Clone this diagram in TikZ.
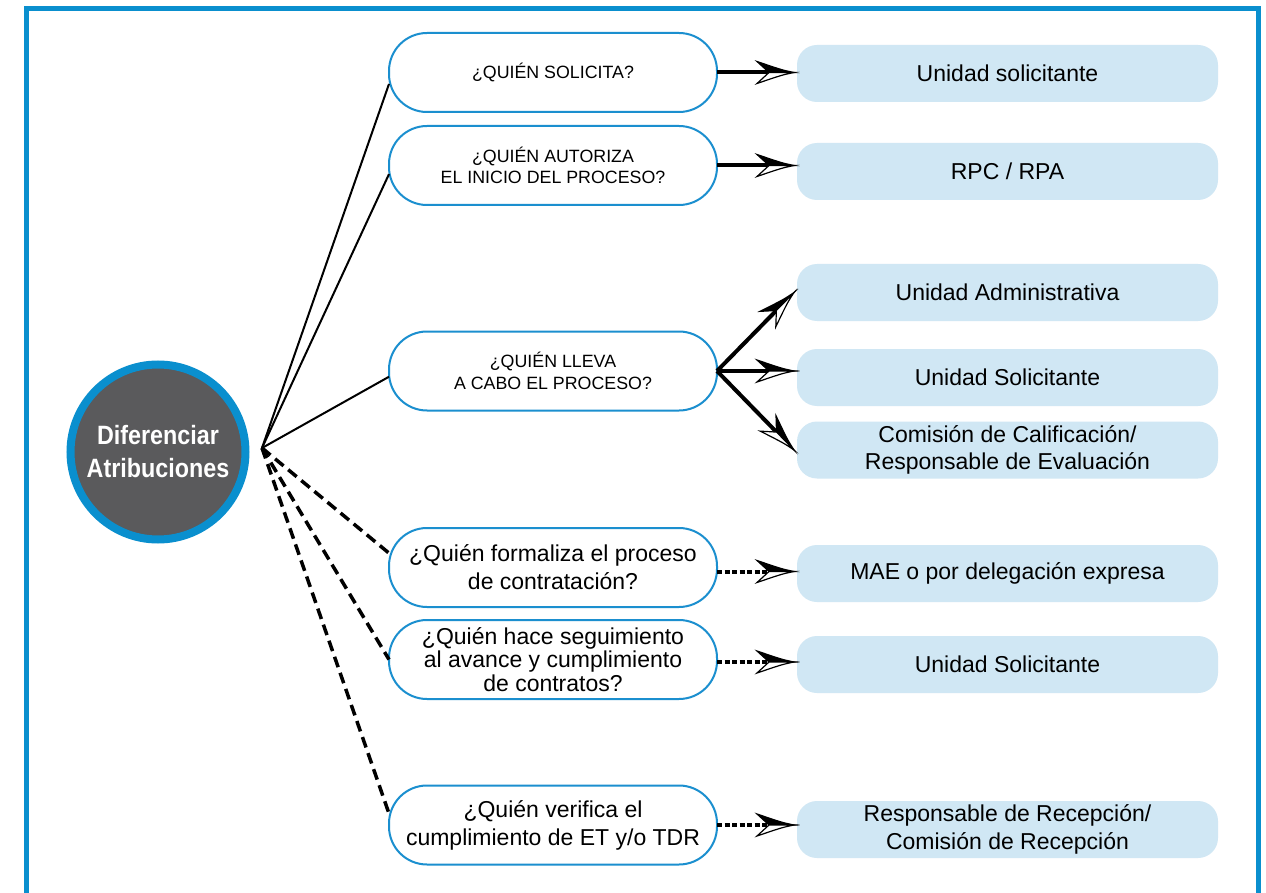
\documentclass[tikz,border=0pt]{standalone}
\usepackage{fontspec}
\setmainfont{Liberation Sans}
\newfontfamily\condfont[FakeStretch=0.88]{Liberation Sans}
\usetikzlibrary{decorations.markings,calc}
\definecolor{frameblue}{HTML}{0A8FCE}
\definecolor{qblue}{HTML}{1B8FCF}
\definecolor{ablue}{HTML}{D0E7F4}
\definecolor{hubgray}{HTML}{5A5A5C}
\tikzset{
  hubcircle/.style={circle, fill=hubgray, draw=frameblue, line width=8pt, minimum size=175pt,
    inner sep=0pt, text=white, align=center, font=\condfont\bfseries\fontsize{26.5}{33}\selectfont},
  qbox/.style={draw=qblue, line width=2pt, fill=white, rounded corners=38pt,
    minimum width=328pt, minimum height=79pt, outer sep=0pt, inner sep=0pt, align=center},
  qcaps/.style={qbox, font=\fontsize{17.8}{21.5}\selectfont},
  qlow/.style={qbox, font=\fontsize{23}{28}\selectfont},
  qlowtight/.style={qbox, font=\fontsize{23}{23.5}\selectfont},
  abox/.style={fill=ablue, rounded corners=20pt, minimum width=421pt, minimum height=57pt,
    outer sep=3pt, inner sep=0pt, align=center, font=\fontsize{23}{27.5}\selectfont},
  link/.style={line width=2pt},
  dlink/.style={line width=3.5pt, dash pattern=on 11pt off 6pt},
  headmark/.style={postaction={decorate}, decoration={markings, mark=at position 1 with {
      \filldraw[fill=black, draw=black, solid, line width=1.2pt, shorten >=0pt, line join=miter]
        (0pt,0pt) .. controls (-12pt,2.5pt) .. (-37pt,11pt) -- (-25pt,0pt) -- cycle;
      \filldraw[fill=white, draw=black, solid, line width=1.2pt, shorten >=0pt, line join=miter]
        (0pt,0pt) .. controls (-12pt,-2.5pt) .. (-37pt,-11pt) -- (-25pt,0pt) -- cycle;
  }}},
  sarrow/.style={line width=4pt, shorten >=22pt, headmark},
  darrow/.style={line width=4pt, dash pattern=on 5pt off 2.5pt, shorten >=22pt, headmark},
}
\begin{document}
\begin{tikzpicture}[x=1pt,y=-1pt]
\clip (0,0) rectangle (1266,893);
\fill[white] (0,0) rectangle (1266,893);
\draw[frameblue, line width=5pt] (26.5,8.5) rectangle (1258,905);

\node[hubcircle] (dif) at (158,452) {Diferenciar\\Atribuciones};
\coordinate (hub) at (262,448);

\node[qcaps] (q1) at (553,72.5) {¿QUIÉN SOLICITA?};
\node[qcaps] (q2) at (553,165.5) {¿QUIÉN AUTORIZA\\EL INICIO DEL PROCESO?};
\node[qcaps] (q3) at (553,371) {¿QUIÉN LLEVA\\A CABO EL PROCESO?};
\node[qlow] (q4) at (553,567.5) {¿Quién formaliza el proceso\\de contratación?};
\node[qlowtight] (q5) at (553,659.5) {¿Quién hace seguimiento\\al avance y cumplimiento\\de contratos?};
\node[qlow] (q6) at (553,825) {¿Quién verifica el\\cumplimiento de ET y/o TDR};

\node[abox] (a1) at (1007.5,73.5) {Unidad solicitante};
\node[abox] (a2) at (1007.5,171.5) {RPC / RPA};
\node[abox] (a3) at (1007.5,292.5) {Unidad Administrativa};
\node[abox] (a4) at (1007.5,377.5) {Unidad Solicitante};
\node[abox] (a5) at (1007.5,450) {Comisión de Calificación/\\Responsable de Evaluación};
\node[abox] (a6) at (1007.5,573.5) {MAE o por delegación expresa};
\node[abox] (a7) at (1007.5,664.5) {Unidad Solicitante};
\node[abox] (a8) at (1007.5,829.5) {Responsable de Recepción/\\Comisión de Recepción};

\draw[link] (hub) -- (q1.184);
\draw[link] (hub) -- (q2.183);
\draw[link] (hub) -- (q3.182);
\draw[dlink] (hub) -- (q4.175);
\draw[dlink] (hub) -- (q5.180);
\draw[dlink] (hub) -- (q6.176.5);

\draw[sarrow] (q1.east) -- (q1.east -| a1.west);
\draw[sarrow] (q2.east) -- (q2.east -| a2.west);
\draw[sarrow] (q3.east) -- (a3.west);
\draw[sarrow] (q3.east) -- (q3.east -| a4.west);
\draw[sarrow] (q3.east) -- (a5.west);
\draw[darrow] ([yshift=-4pt]q4.east) -- ([yshift=-4pt]q4.east -| a6.west);
\draw[darrow] ([yshift=-2.5pt]q5.east) -- ([yshift=-2.5pt]q5.east -| a7.west);
\draw[darrow] (q6.east) -- (q6.east -| a8.west);
\end{tikzpicture}
\end{document}
